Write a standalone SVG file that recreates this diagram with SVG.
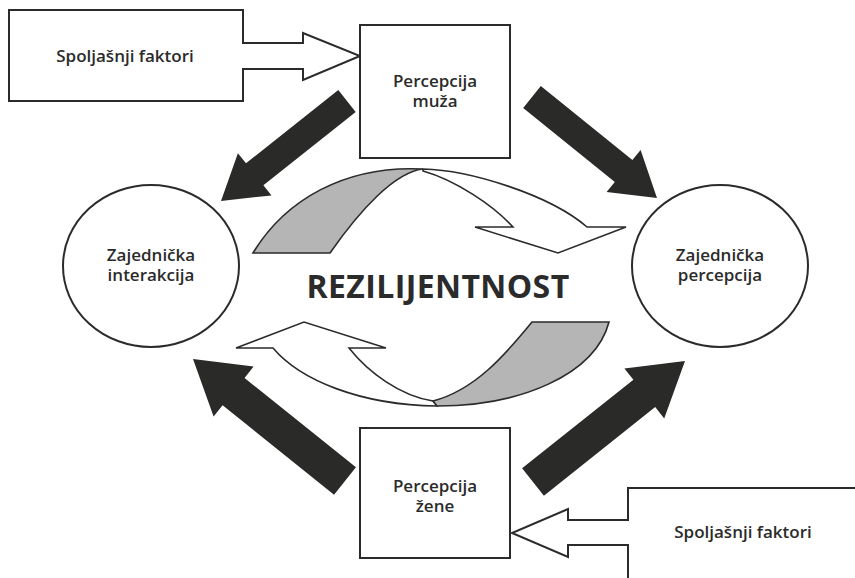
<svg xmlns="http://www.w3.org/2000/svg" width="855" height="578" viewBox="0 0 855 578">
<style>
.out{fill:#fff;stroke:#2b2b2b;stroke-width:2}
.thin{fill:#fff;stroke:#2b2b2b;stroke-width:1.6;stroke-linejoin:miter}
.grey{fill:#b4b5b4;stroke:#2b2b2b;stroke-width:1.6}
.blk{fill:#2a2a28}
text{font-family:"Open Sans","Noto Sans","DejaVu Sans",sans-serif;font-weight:600;font-size:17px;fill:#2b2b2b;text-anchor:middle}
.big{font-size:32px;font-weight:700;letter-spacing:0.4px}
</style>
<rect width="855" height="578" fill="#fff"/>
<g id="ext-top">
<polygon class="out" points="9,10 243,10 243,43 303,43 303,33 360,56 303,80 303,69 243,69 243,101 9,101"/>
<text x="125" y="62">Spoljašnji faktori</text>
</g>
<g id="ext-bottom">
<polygon class="out" points="857,488 628,488 628,520 568,520 568,509 512,533 568,557 568,545 628,545 628,580 857,580" style="stroke:none"/>
<polyline class="out" style="fill:none" points="857,488 628,488 628,520 568,520 568,509 512,533 568,557 568,545 628,545 628,580"/>
<text x="743" y="538">Spoljašnji faktori</text>
</g>
<g id="perc-muz">
<rect class="out" x="360" y="25" width="150" height="133"/>
<text x="435" y="87">Percepcija</text>
<text x="435" y="107">muža</text>
</g>
<g id="perc-zene">
<rect class="out" x="360" y="428" width="150" height="130"/>
<text x="435" y="492">Percepcija</text>
<text x="435" y="512">žene</text>
</g>
<g id="zaj-interakcija">
<ellipse class="out" cx="151" cy="266" rx="88" ry="81"/>
<text x="151" y="261">Zajednička</text>
<text x="151" y="281">interakcija</text>
</g>
<g id="zaj-percepcija">
<ellipse class="out" cx="720" cy="266" rx="88" ry="81"/>
<text x="720" y="261">Zajednička</text>
<text x="720" y="281">percepcija</text>
</g>
<g id="rezilijentnost">
<text class="big" x="438" y="298">REZILIJENTNOST</text>
</g>
<g id="connectors">
<path class="grey" d="M253,253 C285,200 345,165 423,169 C395,172 360,210 330,253 Z"/>
<path class="thin" d="M423,169 C470,170 550,195 587,227 L626,227 L558,253 L475,227 L513,227 C493,205 455,180 423,171 Z"/>
<path class="thin" d="M236,348 L304,322 L386,348 L349,348 C368,372 400,396 433,401 L437,406 C360,405 300,380 273,348 Z"/>
<path class="grey" d="M532,322 L609,322 C595,375 520,406 437,406 L433,401 C475,390 505,355 532,322 Z"/>
<polygon class="blk" points="338.3,90 246,163.3 237.9,153.2 221,201 271.5,195.4 263.4,185.3 355.7,112"/>
<polygon class="blk" points="540.8,86.1 632.4,160.1 640.6,150 657,198 606.6,192 614.8,181.9 523.2,107.9"/>
<polygon class="blk" points="355.96,467.35 244.56,377.95 253.6,366.6 193,359 213.6,416.6 222.6,405.2 334.04,494.65"/>
<polygon class="blk" points="522.1,468.3 633.4,379.7 624.4,368.4 685,361 664.2,418.4 655.2,407.1 543.9,495.7"/>
</g>
</svg>
